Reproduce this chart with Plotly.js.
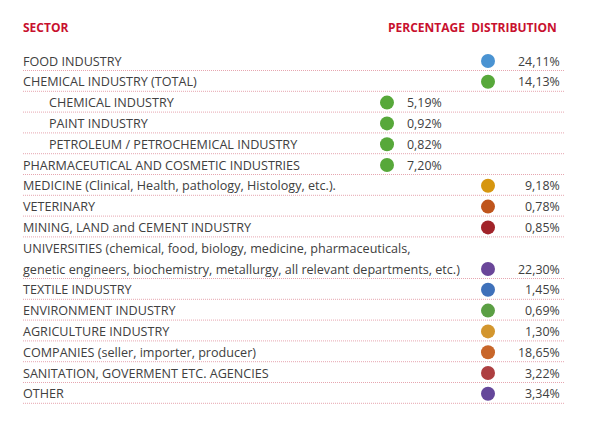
<!DOCTYPE html>
<html>
<head>
<meta charset="utf-8">
<script src="https://cdn.plot.ly/plotly-3.0.1.min.js"></script>
<style>html,body{margin:0;padding:0;background:#fff;}#chart{width:600px;height:422px;}</style>
</head>
<body>
<div id="chart"></div>
<script>
// ---- data ----
const headerSector = 'SECTOR';
const headerShare = 'PERCENTAGE&nbsp;&nbsp;DISTRIBUTION';
const sectorLabels = [
  'FOOD INDUSTRY',
  'CHEMICAL INDUSTRY (TOTAL)',
  'CHEMICAL INDUSTRY',
  'PAINT INDUSTRY',
  'PETROLEUM / PETROCHEMICAL INDUSTRY',
  'PHARMACEUTICAL AND COSMETIC INDUSTRIES',
  'MEDICINE (Clinical, Health, pathology, Histology, etc.).',
  'VETERINARY',
  'MINING, LAND and CEMENT INDUSTRY',
  'UNIVERSITIES (chemical, food, biology, medicine, pharmaceuticals,<br>genetic engineers, biochemistry, metallurgy, all relevant departments, etc.)',
  'TEXTILE INDUSTRY',
  'ENVIRONMENT INDUSTRY',
  'AGRICULTURE INDUSTRY',
  'COMPANIES (seller, importer, producer)',
  'SANITATION, GOVERMENT ETC. AGENCIES',
  'OTHER'
];
const shareValues = [24.11, 14.13, 5.19, 0.92, 0.82, 7.20, 9.18, 0.78, 0.85, 22.30, 1.45, 0.69, 1.30, 18.65, 3.22, 3.34];
const isChemicalPart = [false, false, true, true, true, true, false, false, false, false, false, false, false, false, false, false];
const isIndented = [false, false, true, true, true, false, false, false, false, false, false, false, false, false, false, false];
const dotColors = ['#4a93d2', '#57a83a', '#57a83a', '#57a83a', '#57a83a', '#57a83a', '#d6960f', '#bf551c', '#a1232a', '#6a4699', '#3f71ba', '#5b9f44', '#d3962e', '#c8662a', '#ad3f41', '#65479a'];

// ---- layout constants ----
const LINE_H = 20.8, TOP = 61;
const X_LEFT = 21, X_INDENT = 47, X_END = 565;
const X_DOT_MAIN = 488, X_DOT_SUB = 387;
const X_VAL_MAIN = 562, X_VAL_SUB = 444;
const RED = '#c8102e', TEXT = '#404040';
const FONT = '"Open Sans", Roboto, sans-serif';

// assign line positions
const lineOf = [];
let ln = 0;
const labelLines = [];
sectorLabels.forEach((lab, i) => {
  const parts = lab.split('<br>');
  parts.forEach((p, k) => labelLines.push({text: p, line: ln + k, indent: isIndented[i]}));
  lineOf.push(ln + parts.length - 1);
  ln += parts.length;
});

const fmt = v => v.toFixed(2).replace('.', ',') + '%';

const annotations = [];
annotations.push({x: X_LEFT, y: TOP - 34, xref: 'x', yref: 'y', text: '<b>' + headerSector + '</b>', showarrow: false, xanchor: 'left', yanchor: 'middle', font: {family: FONT, size: 12, color: RED}});
annotations.push({x: 559, y: TOP - 34, xref: 'x', yref: 'y', text: '<b>' + headerShare + '</b>', showarrow: false, xanchor: 'right', yanchor: 'middle', font: {family: FONT, size: 12, color: RED}});
labelLines.forEach(l => annotations.push({
  x: l.indent ? X_INDENT : X_LEFT, y: TOP + l.line * LINE_H, xref: 'x', yref: 'y', text: l.text, showarrow: false,
  xanchor: 'left', yanchor: 'middle', font: {family: FONT, size: 12.6, color: TEXT}
}));
shareValues.forEach((v, i) => annotations.push({
  x: isChemicalPart[i] ? X_VAL_SUB : X_VAL_MAIN, y: TOP + lineOf[i] * LINE_H, xref: 'x', yref: 'y', text: fmt(v), showarrow: false,
  xanchor: 'right', yanchor: 'middle', font: {family: FONT, size: 12.4, color: TEXT}
}));

const shapes = lineOf.map(l => ({
  type: 'line', xref: 'x', yref: 'y', x0: 23, x1: X_END, y0: TOP + l * LINE_H + 9.5, y1: TOP + l * LINE_H + 9.5,
  line: {color: '#e6a6b0', width: 1, dash: '1px,1px'}
}));

const dots = {
  type: 'scatter', mode: 'markers',
  x: shareValues.map((v, i) => isChemicalPart[i] ? X_DOT_SUB : X_DOT_MAIN),
  y: lineOf.map(l => TOP + l * LINE_H),
  marker: {size: 14, color: dotColors, line: {width: 0}},
  text: sectorLabels,
  hoverinfo: 'text',
  showlegend: false
};

Plotly.newPlot('chart', [dots], {
  width: 600, height: 422,
  margin: {l: 0, r: 0, t: 0, b: 0},
  paper_bgcolor: '#fff', plot_bgcolor: '#fff',
  xaxis: {range: [0, 600], visible: false, fixedrange: true},
  yaxis: {range: [422, 0], visible: false, fixedrange: true},
  annotations: annotations,
  shapes: shapes,
  showlegend: false
}, {displayModeBar: false, staticPlot: true});
</script>
</body>
</html>
